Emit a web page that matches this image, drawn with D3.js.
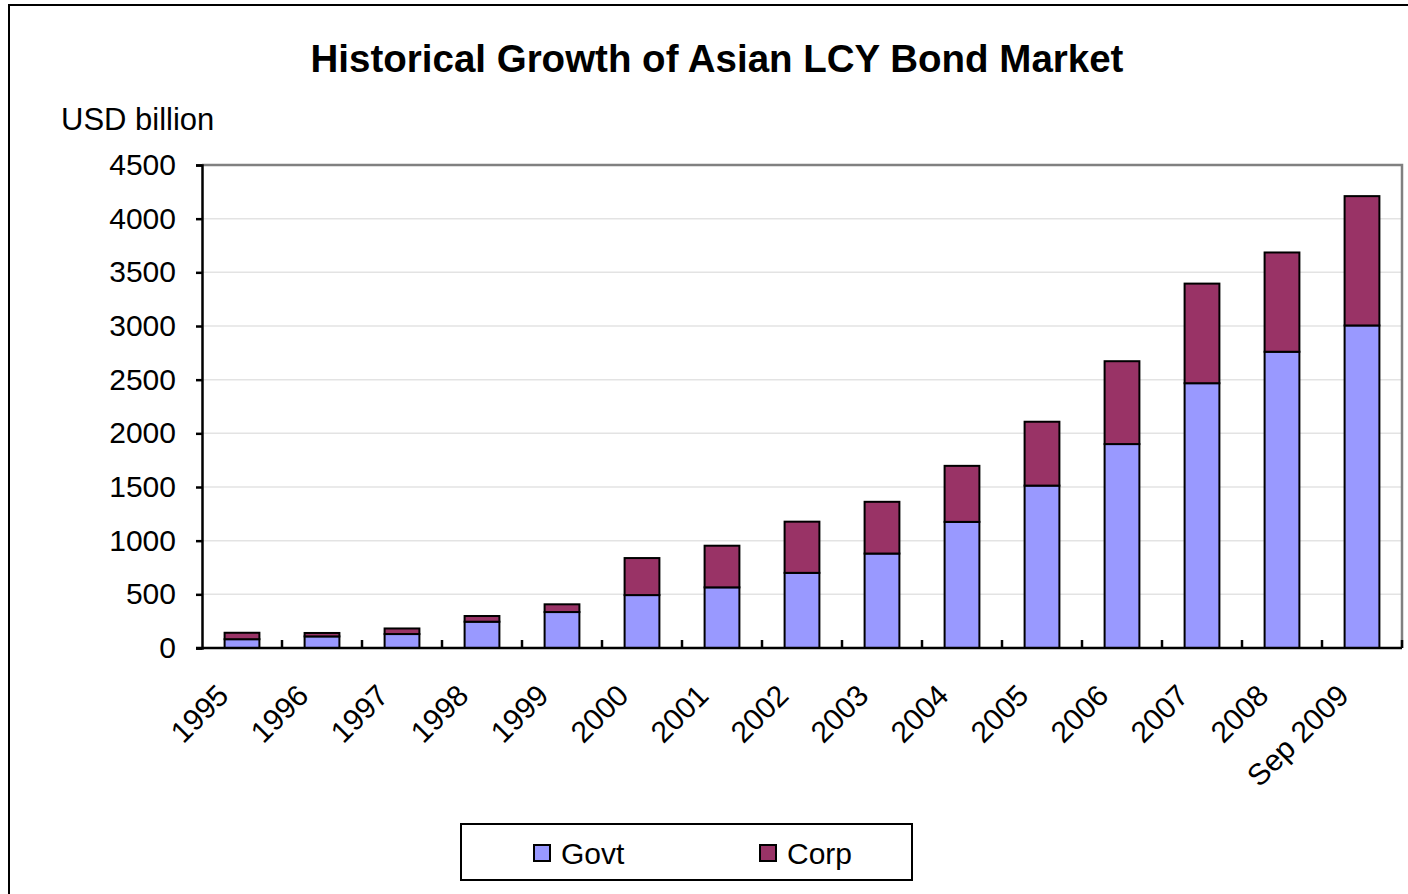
<!DOCTYPE html>
<html>
<head>
<meta charset="utf-8">
<script src="https://cdn.jsdelivr.net/npm/d3@7/dist/d3.min.js"></script>
<style>
  html, body { margin: 0; padding: 0; background: #fff; }
  svg { display: block; font-family: "Liberation Sans", Arial, sans-serif; }
</style>
</head>
<body>
<svg id="chart" width="1408" height="894"></svg>
<script>
// Asian local-currency bond market, USD billion
const categories = ["1995", "1996", "1997", "1998", "1999", "2000", "2001", "2002",
                    "2003", "2004", "2005", "2006", "2007", "2008", "Sep 2009"];
const govt = [82, 108, 130, 245, 335, 493, 565, 700, 880, 1175, 1513, 1900, 2467, 2760, 3005];
const corp = [60, 32, 52, 53, 72, 345, 388, 477, 482, 522, 595, 772, 928, 925, 1205];
const seriesNames = ["Govt", "Corp"];
const seriesColors = ["#9999FF", "#993366"];
const yTicks = [0, 500, 1000, 1500, 2000, 2500, 3000, 3500, 4000, 4500];

const svg = d3.select("#chart");
const plot = { left: 202, top: 165, right: 1402, bottom: 648 };
const labelSize = 30;

// outer chart frame
svg.append("rect")
  .attr("x", 9).attr("y", 5).attr("width", 1420).attr("height", 910)
  .attr("fill", "#fff").attr("stroke", "#000").attr("stroke-width", 2);

const x = d3.scaleBand().domain(categories)
  .range([plot.left, plot.right]).paddingInner(0.565).paddingOuter(0.2825);
const y = d3.scaleLinear().domain([0, 4500]).range([plot.bottom, plot.top]);

// gridlines
svg.append("g").selectAll("line").data(yTicks.filter(d => d > 0 && d < 4500)).join("line")
  .attr("x1", plot.left).attr("x2", plot.right)
  .attr("y1", d => y(d)).attr("y2", d => y(d))
  .attr("stroke", "#e3e3e3").attr("stroke-width", 1.5);

// plot frame: top and right in gray
svg.append("path")
  .attr("d", `M${plot.left},${plot.top}H${plot.right}V${plot.bottom}`)
  .attr("fill", "none").attr("stroke", "#808080").attr("stroke-width", 2.5);

// stacked bars
const table = categories.map((c, i) => ({ cat: c, Govt: govt[i], Corp: corp[i] }));
const stacked = d3.stack().keys(seriesNames)(table);
svg.append("g").selectAll("g").data(stacked).join("g")
  .attr("fill", (d, i) => seriesColors[i])
  .selectAll("rect").data(d => d).join("rect")
  .attr("x", d => x(d.data.cat))
  .attr("width", x.bandwidth())
  .attr("y", d => y(d[1]))
  .attr("height", d => y(d[0]) - y(d[1]))
  .attr("stroke", "#000").attr("stroke-width", 2);

// y axis
const yAxis = d3.axisLeft(y).tickValues(yTicks).tickSize(6).tickPadding(20).tickFormat(d3.format("d"));
const gy = svg.append("g").attr("transform", `translate(${plot.left},0)`).call(yAxis);
gy.select(".domain").attr("stroke", "#000").attr("stroke-width", 2.5);
gy.selectAll(".tick line").attr("stroke", "#000").attr("stroke-width", 2.5);
gy.selectAll(".tick text").attr("font-size", labelSize).attr("fill", "#000")
  .attr("font-family", "Liberation Sans, Arial, sans-serif");

// x axis baseline and category boundary ticks (pointing up)
svg.append("line")
  .attr("x1", plot.left - 6).attr("x2", plot.right)
  .attr("y1", plot.bottom).attr("y2", plot.bottom)
  .attr("stroke", "#000").attr("stroke-width", 2.5);
const step = x.step();
svg.append("g").selectAll("line").data(d3.range(1, categories.length + 1)).join("line")
  .attr("x1", i => x(categories[0]) - x.paddingOuter() * step + i * step)
  .attr("x2", i => x(categories[0]) - x.paddingOuter() * step + i * step)
  .attr("y1", plot.bottom).attr("y2", plot.bottom - 8)
  .attr("stroke", "#000").attr("stroke-width", 2.5);

// rotated category labels
svg.append("g").selectAll("text").data(categories).join("text")
  .attr("transform", d => `translate(${x(d) + x.bandwidth() / 2 - 19},${plot.bottom + 42}) rotate(-45)`)
  .attr("text-anchor", "end")
  .attr("dy", "0.35em")
  .attr("font-size", labelSize)
  .text(d => d);

// title and unit
svg.append("text").attr("x", 717).attr("y", 72).attr("text-anchor", "middle")
  .attr("font-size", 38.5).attr("font-weight", "bold").text("Historical Growth of Asian LCY Bond Market");
svg.append("text").attr("x", 61).attr("y", 130).attr("font-size", 31).text("USD billion");

// legend
const lg = svg.append("g");
lg.append("rect").attr("x", 461).attr("y", 824).attr("width", 451).attr("height", 56)
  .attr("fill", "#fff").attr("stroke", "#000").attr("stroke-width", 2);
const legendX = [534, 760];
seriesNames.forEach((name, i) => {
  lg.append("rect").attr("x", legendX[i]).attr("y", 845).attr("width", 16).attr("height", 16)
    .attr("fill", seriesColors[i]).attr("stroke", "#000").attr("stroke-width", 2);
  lg.append("text").attr("x", legendX[i] + 27).attr("y", 864).attr("font-size", labelSize).text(name);
});
</script>
</body>
</html>
